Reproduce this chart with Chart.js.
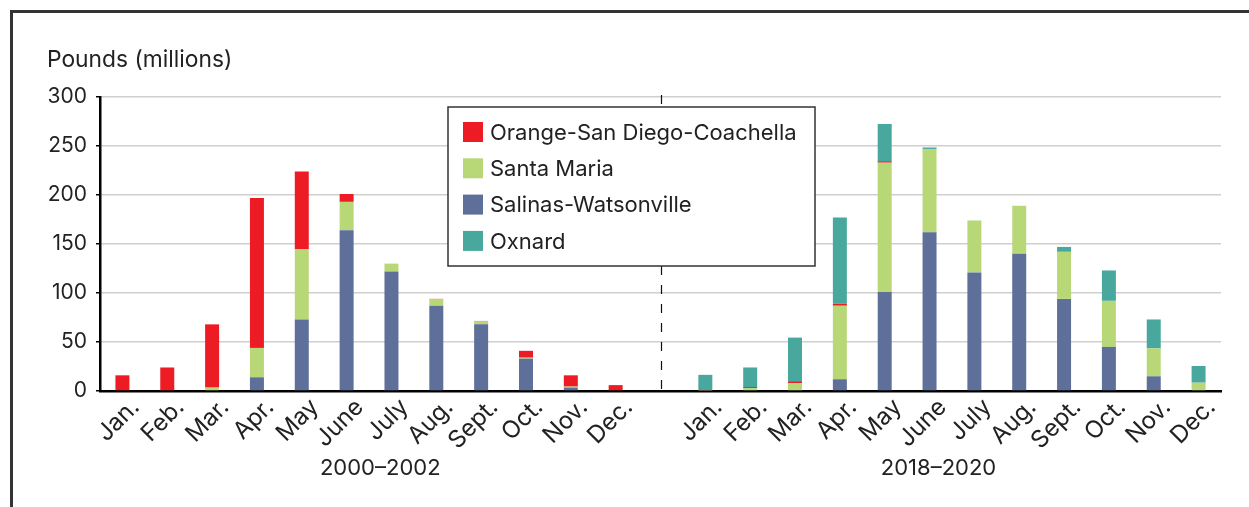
<!DOCTYPE html>
<html>
<head>
<meta charset="utf-8">
<script src="https://cdn.jsdelivr.net/npm/chart.js@4"></script>
<style>
  body { margin: 0; background: #fff; overflow: hidden; }
  #frame { position: absolute; left: 10px; top: 10px; width: 1400px; height: 700px; border: 3px solid #333; }
  #chart { position: absolute; left: 0; top: 0; }
</style>
</head>
<body>
<div id="frame"></div>
<canvas id="chart" width="1249" height="507"></canvas>
<script>
// Месяцы и категории (пустая категория между периодами)
const months = ['Jan.', 'Feb.', 'Mar.', 'Apr.', 'May', 'June', 'July', 'Aug.', 'Sept.', 'Oct.', 'Nov.', 'Dec.'];
const categories = [...months, '', ...months];
const periods = ['2000\u20132002', '2018\u20132020'];

// Значения, млн фунтов
const salinas    = [0, 0, 0, 14, 73, 164, 122, 87, 68, 33, 3.5, 0, null, 0, 0, 0, 12, 101, 162, 121, 140, 94, 45, 15, 0];
const santaMaria = [0, 0, 3.5, 30, 72, 29, 8, 6.5, 3, 1, 1, 0, null, 0, 3, 8, 75, 132, 85, 53, 49, 48, 47, 28.5, 8.5];
const orangeSD   = [16, 24, 64.5, 153, 79, 8, 0, 0.5, 0.5, 7, 11.5, 6, null, 0.5, 1, 2, 2, 1.5, 0, 0, 0, 0, 0, 0, 0];
const oxnard     = [0, 0, 0, 0, 0, 0, 0, 0, 0, 0, 0, 0, null, 16, 20, 44.5, 88, 38, 1.5, 0, 0, 5, 31, 29.5, 17];

const yTicks = [0, 50, 100, 150, 200, 250, 300];

const colors = {
    orange: '#ED1C24',
    santaMaria: '#B8D878',
    salinas: '#5E6F99',
    oxnard: '#48A89E'
};

// Порядок в легенде отличается от порядка стека
const legendItems = [
    { label: 'Orange-San Diego-Coachella', color: colors.orange },
    { label: 'Santa Maria', color: colors.santaMaria },
    { label: 'Salinas-Watsonville', color: colors.salinas },
    { label: 'Oxnard', color: colors.oxnard }
];

const fontFamily = 'Inter, "Noto Sans", sans-serif';
Chart.defaults.font.family = fontFamily;
Chart.defaults.color = '#222';

const extras = {
    id: 'extras',
    beforeDatasetsDraw(chart) {
        const { ctx, chartArea, scales } = chart;
        // пунктирная линия между периодами
        const xd = Math.round(scales.x.getPixelForValue(12)) + 0.5;
        ctx.save();
        ctx.strokeStyle = '#111';
        ctx.lineWidth = 1.2;
        ctx.setLineDash([9, 10]);
        ctx.beginPath();
        ctx.moveTo(xd, chartArea.top - 2);
        ctx.lineTo(xd, chartArea.bottom);
        ctx.stroke();
        ctx.restore();
    },
    afterDraw(chart) {
        const { ctx, scales } = chart;
        ctx.save();
        ctx.fillStyle = '#222';
        ctx.font = '22.8px ' + fontFamily;
        ctx.textBaseline = 'middle';
        ctx.textAlign = 'left';
        ctx.fillText('Pounds (millions)', 47, 60);

        // подписи периодов
        ctx.font = '22px ' + fontFamily;
        ctx.textAlign = 'center';
        ctx.fillText(periods[0], scales.x.getPixelForValue(5.75), 468);
        ctx.fillText(periods[1], scales.x.getPixelForValue(18.2), 468);

        // легенда
        const bx = 448, by = 107, bw = 367, bh = 159;
        ctx.fillStyle = '#fff';
        ctx.fillRect(bx, by, bw, bh);
        ctx.strokeStyle = '#333';
        ctx.lineWidth = 1.5;
        ctx.strokeRect(bx, by, bw, bh);
        ctx.textAlign = 'left';
        legendItems.forEach((item, i) => {
            const cy = 132 + i * 36.3;
            ctx.fillStyle = item.color;
            ctx.fillRect(463, cy - 10, 20, 20);
            ctx.fillStyle = '#222';
            ctx.fillText(item.label, 490, cy + 1);
        });
        ctx.restore();
    }
};

const ctx = document.getElementById('chart').getContext('2d');

new Chart(ctx, {
    type: 'bar',
    data: {
        labels: categories,
        datasets: [
            { label: 'Salinas-Watsonville', data: salinas, backgroundColor: colors.salinas },
            { label: 'Santa Maria', data: santaMaria, backgroundColor: colors.santaMaria },
            { label: 'Orange-San Diego-Coachella', data: orangeSD, backgroundColor: colors.orange },
            { label: 'Oxnard', data: oxnard, backgroundColor: colors.oxnard }
        ]
    },
    options: {
        responsive: false,
        devicePixelRatio: 1,
        animation: false,
        layout: { padding: { top: 97, right: 28, left: 0, bottom: 0 } },
        datasets: {
            bar: { categoryPercentage: 1, barPercentage: 0.312 }
        },
        plugins: {
            legend: { display: false },
            tooltip: { enabled: false }
        },
        scales: {
            x: {
                stacked: true,
                grid: { display: false, drawTicks: false },
                border: { display: true, color: '#000', width: 2.5 },
                ticks: {
                    autoSkip: false,
                    maxRotation: 45,
                    minRotation: 45,
                    padding: 2,
                    labelOffset: 13,
                    color: '#222',
                    font: { size: 24 }
                },
                afterFit: scale => { scale.height = 116; }
            },
            y: {
                stacked: true,
                min: 0,
                max: 300,
                afterBuildTicks: scale => { scale.ticks = yTicks.map(v => ({ value: v })); },
                grid: { color: '#cfcfcf', lineWidth: 1.5, tickColor: '#000', tickLength: 4 },
                border: { display: true, color: '#000', width: 2.5 },
                ticks: { padding: 9, color: '#222', font: { size: 21 } },
                afterFit: scale => { scale.width = 100; }
            }
        }
    },
    plugins: [extras]
});
</script>
</body>
</html>
